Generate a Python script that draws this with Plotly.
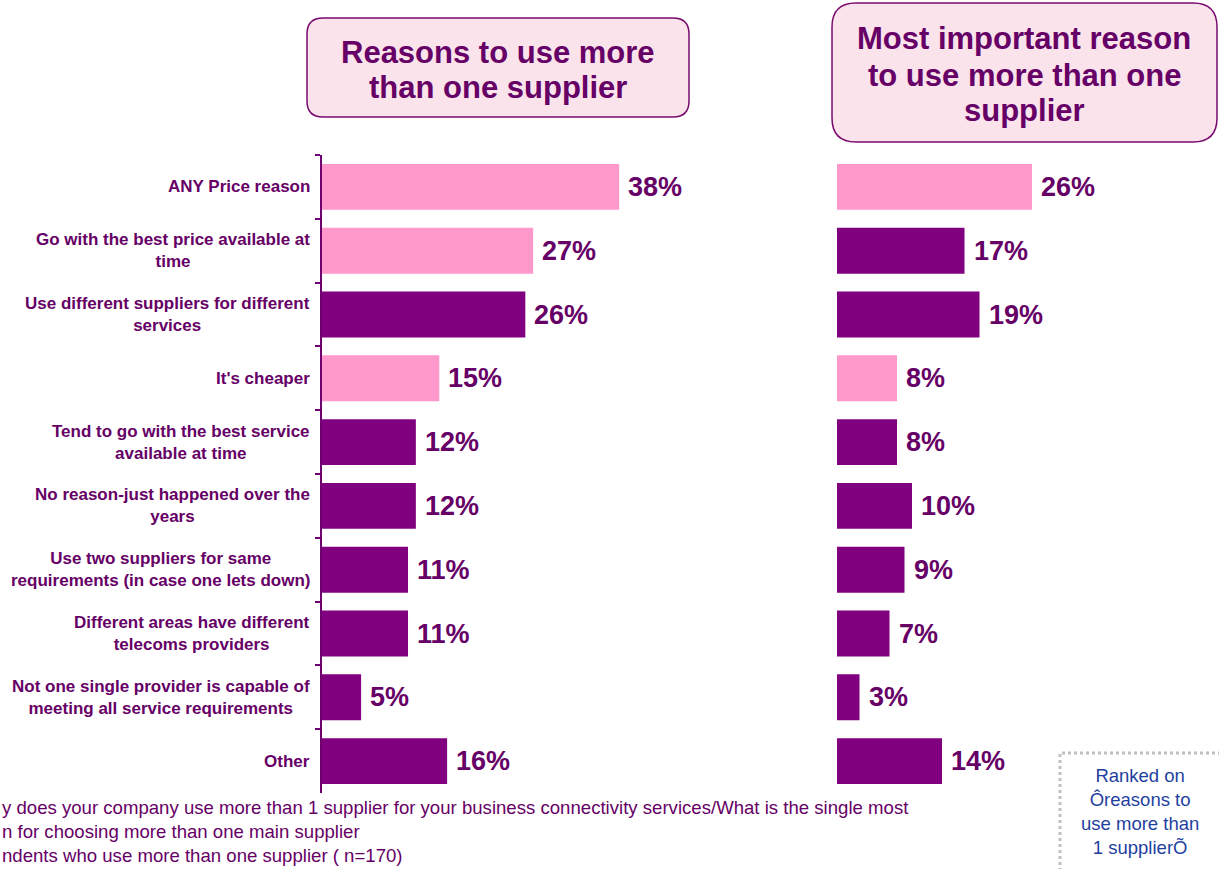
import plotly.graph_objects as go

W, H = 1219, 869

categories = [
    "ANY Price reason",
    "Go with the best price available at<br>time",
    "Use different suppliers for different<br>services",
    "It's cheaper",
    "Tend to go with the best service<br>available at time",
    "No reason-just happened over the<br>years",
    "Use two suppliers for same<br>requirements (in case one lets down)",
    "Different areas have different<br>telecoms providers",
    "Not one single provider is capable of<br>meeting all service requirements",
    "Other",
]
reasons_all = [38, 27, 26, 15, 12, 12, 11, 11, 5, 16]
reasons_main = [26, 17, 19, 8, 8, 10, 9, 7, 3, 14]
price_related_all = [True, True, False, True, False, False, False, False, False, False]
price_related_main = [True, False, False, True, False, False, False, False, False, False]

title_left = ["Reasons to use more", "than one supplier"]
title_right = ["Most important reason", "to use more than one", "supplier"]

PINK = "#FF99CC"
PURPLE = "#800080"
TEXT = "#660066"
FONT = "Arial, Liberation Sans, sans-serif"


def px_x(p):
    return p / W


def px_y(p):
    return 1 - p / H


y_dom = [px_y(793), px_y(155)]
x1_dom = [px_x(322), px_x(322 + 7.82 * 40)]
x2_dom = [px_x(837), px_x(837 + 7.5 * 30)]

fig = go.Figure()
fig.add_trace(go.Bar(
    x=reasons_all, y=categories, orientation="h",
    marker=dict(color=[PINK if p else PURPLE for p in price_related_all], line=dict(width=0)),
    xaxis="x", yaxis="y", hoverinfo="skip",
))
fig.add_trace(go.Bar(
    x=reasons_main, y=categories, orientation="h",
    marker=dict(color=[PINK if p else PURPLE for p in price_related_main], line=dict(width=0)),
    xaxis="x2", yaxis="y2", hoverinfo="skip",
))

annotations = []
# value labels
for cat, v in zip(categories, reasons_all):
    annotations.append(dict(x=v, y=cat, xref="x", yref="y", text=f"<b>{v}%</b>",
                            showarrow=False, xanchor="left", xshift=7,
                            font=dict(family=FONT, size=27, color=TEXT)))
for cat, v in zip(categories, reasons_main):
    annotations.append(dict(x=v, y=cat, xref="x2", yref="y2", text=f"<b>{v}%</b>",
                            showarrow=False, xanchor="left", xshift=7,
                            font=dict(family=FONT, size=27, color=TEXT)))
# category labels, centred lines, right edge next to the axis
for cat in categories:
    annotations.append(dict(x=px_x(312), y=cat, xref="paper", yref="y", text=f"<b>{cat}</b>",
                            showarrow=False, xanchor="right", align="center",
                            font=dict(family=FONT, size=17, color=TEXT)))

# panel titles, one line at a time for tighter leading
for line, yc in zip(title_left, [52, 88]):
    annotations.append(dict(x=px_x(498), y=px_y(yc), xref="paper", yref="paper",
                            text=f"<b>{line}</b>", showarrow=False,
                            xanchor="center", yanchor="middle",
                            font=dict(family=FONT, size=31, color=TEXT)))
for line, yc in zip(title_right, [38, 75, 111]):
    annotations.append(dict(x=px_x(1024), y=px_y(yc), xref="paper", yref="paper",
                            text=f"<b>{line}</b>", showarrow=False,
                            xanchor="center", yanchor="middle",
                            font=dict(family=FONT, size=31, color=TEXT)))

# footnote
annotations.append(dict(x=0, y=px_y(795), xref="paper", yref="paper",
                        text="y does your company use more than 1 supplier for your business connectivity services/What is the single most"
                             "<br>n for choosing more than one main supplier"
                             "<br>ndents who use more than one supplier ( n=170)",
                        showarrow=False, align="left", xanchor="left", yanchor="top",
                        font=dict(family=FONT, size=18.6, color=TEXT)))

# ranking note
annotations.append(dict(x=px_x(1140), y=px_y(811), xref="paper", yref="paper",
                        text="Ranked on<br>Ôreasons to<br>use more than<br>1 supplierÕ",
                        showarrow=False, align="center", xanchor="center", yanchor="middle",
                        font=dict(family=FONT, size=18.5, color="#1F3FA0")))


def rounded_rect(x0, y0, x1, y1, r):
    X0, X1 = px_x(x0), px_x(x1)
    Y0, Y1 = px_y(y0), px_y(y1)
    rx, ry = r / W, r / H
    return (f"M {X0 + rx} {Y0} L {X1 - rx} {Y0} Q {X1} {Y0} {X1} {Y0 - ry} "
            f"L {X1} {Y1 + ry} Q {X1} {Y1} {X1 - rx} {Y1} "
            f"L {X0 + rx} {Y1} Q {X0} {Y1} {X0} {Y1 + ry} "
            f"L {X0} {Y0 - ry} Q {X0} {Y0} {X0 + rx} {Y0} Z")


shapes = [
    dict(type="path", xref="paper", yref="paper", path=rounded_rect(307, 18, 689, 117, 16),
         fillcolor="#FAE3EA", line=dict(color="#7A0A6E", width=1.5), layer="below"),
    dict(type="path", xref="paper", yref="paper", path=rounded_rect(832, 3, 1217, 142, 24),
         fillcolor="#FAE3EA", line=dict(color="#7A0A6E", width=1.5), layer="below"),
    dict(type="rect", xref="paper", yref="paper", x0=px_x(1060), x1=px_x(1222),
         y0=px_y(872), y1=px_y(753),
         fillcolor="rgba(0,0,0,0)", line=dict(color="#C0C0C0", width=3, dash="dot")),
]

fig.update_layout(
    width=W, height=H,
    margin=dict(l=0, r=0, t=0, b=0),
    paper_bgcolor="white", plot_bgcolor="white",
    showlegend=False, bargap=0.28,
    font=dict(family=FONT, color=TEXT),
    xaxis=dict(domain=x1_dom, range=[0, 40], visible=False, fixedrange=True),
    xaxis2=dict(domain=x2_dom, range=[0, 30], visible=False, fixedrange=True),
    yaxis=dict(domain=y_dom, anchor="x", autorange="reversed", showticklabels=False,
               showline=True, linecolor="#6E0070", linewidth=2, showgrid=False,
               ticks="outside", tickson="boundaries", ticklen=5, tickcolor="#6E0070", tickwidth=2,
               zeroline=False),
    yaxis2=dict(domain=y_dom, anchor="x2", autorange="reversed", showticklabels=False,
                showline=False, showgrid=False, zeroline=False, ticks=""),
    annotations=annotations,
    shapes=shapes,
)

fig.write_html("out.html")
